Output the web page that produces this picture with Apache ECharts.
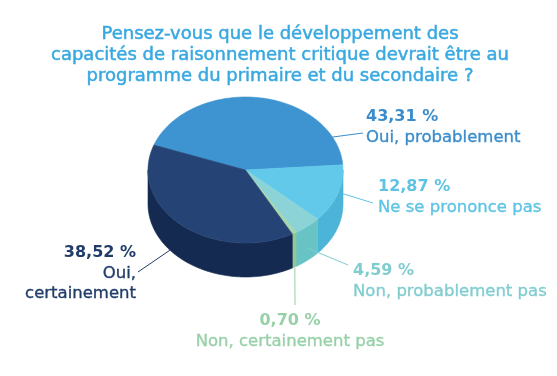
<!DOCTYPE html>
<html>
<head>
<meta charset="utf-8">
<script src="https://cdn.jsdelivr.net/npm/echarts@6/dist/echarts.min.js"></script>
<style>html,body{margin:0;padding:0;background:#fff}#c{width:557px;height:376px}</style>
</head>
<body>
<div id="c"></div>
<script>
// ---- data ----
const titleLines = ['Pensez-vous que le développement des', 'capacités de raisonnement critique devrait être au', 'programme du primaire et du secondaire ?'];
const categories = ['Oui, probablement', 'Ne se prononce pas', 'Non, probablement pas', 'Non, certainement pas', 'Oui, certainement'];
const values = [43.31, 12.87, 4.59, 0.70, 38.52];
const labelNames = [['Oui, probablement'], ['Ne se prononce pas'], ['Non, probablement pas'], ['Non, certainement pas'], ['Oui,', 'certainement']];

// ---- styles ----
const topColors = ['#3d94d0', '#63c9ea', '#8cd3d8', '#a8d6aa', '#254475'];
const wallColors = ['#2f7fb8', '#4bb4d8', '#68c4c4', '#92c696', '#152a50'];
const labelColors = ['#3a8ccb', '#5ec3e4', '#80cdd0', '#98d0a8', '#203c68'];
const geo = { cx: 245.5, cy: 170, rx: 97.5, ry: 73, depth: 34, startDeg: 200 };
// leader anchor (fraction of slice angle, depth on wall), leader end, text anchor
const labelLayout = [
  { frac: 0.854, h: 0, ex: 363, ey: 133, tx: 366, ty: 117, align: 'left' },
  { frac: 0.2, h: 17, ex: 373, ey: 203, tx: 378, ty: 187, align: 'left' },
  { frac: 0.53, h: 21, ex: 348, ey: 265, tx: 353, ty: 271, align: 'left' },
  { frac: 0.32, h: 35, ex: 295, ey: 305, tx: 290, ty: 321, align: 'center' },
  { frac: 0.573, h: 34, ex: 138, ey: 272, tx: 136, ty: 253, align: 'right' }
];
const FONT = '"DejaVu Sans", sans-serif';

const total = values.reduce((a, b) => a + b, 0);
let acc = 0;
const seriesData = values.map((v, i) => { const d = { name: categories[i], value: [v, acc] }; acc += v; return d; });

function ept(t, h) { return [geo.cx + geo.rx * Math.cos(t), geo.cy + geo.ry * Math.sin(t) + (h || 0)]; }
function fmt(v) { return v.toFixed(2).replace('.', ',') + ' %'; }

function renderItem(params, api) {
  const i = params.dataIndex;
  const v = api.value(0), before = api.value(1);
  const s0 = geo.startDeg * Math.PI / 180;
  const a1 = s0 + before / total * 2 * Math.PI;
  const a2 = a1 + v / total * 2 * Math.PI;
  const children = [];
  // walls (front half only)
  for (let k = -1; k <= 2; k++) {
    const lo = Math.max(a1, 2 * Math.PI * k), hi = Math.min(a2, 2 * Math.PI * k + Math.PI);
    if (hi > lo) {
      const pts = [];
      const N = Math.max(4, Math.ceil((hi - lo) * 60));
      for (let n = 0; n <= N; n++) pts.push(ept(lo + (hi - lo) * n / N, 0));
      for (let n = N; n >= 0; n--) pts.push(ept(lo + (hi - lo) * n / N, geo.depth));
      children.push({ type: 'polygon', shape: { points: pts }, style: { fill: wallColors[i], stroke: wallColors[i], lineWidth: 0.6 }, z2: 1 });
    }
  }
  // top face
  const tp = [[geo.cx, geo.cy]];
  const N = Math.max(4, Math.ceil((a2 - a1) * 60));
  for (let n = 0; n <= N; n++) tp.push(ept(a1 + (a2 - a1) * n / N, 0));
  children.push({ type: 'polygon', shape: { points: tp }, style: { fill: topColors[i], stroke: topColors[i], lineWidth: 0.6 }, z2: 2 });
  // leader
  const L = labelLayout[i];
  const ta = a1 + (a2 - a1) * L.frac;
  const p0 = ept(ta, L.h);
  children.push({ type: 'polyline', shape: { points: [p0, [L.ex, L.ey]] }, style: { stroke: labelColors[i], lineWidth: 1, fill: null }, z2: 5 });
  // texts
  children.push({ type: 'text', x: L.tx, y: L.ty, z2: 6, style: { text: fmt(v), fill: labelColors[i], font: 'bold 16px ' + FONT, align: L.align, textAlign: L.align, verticalAlign: 'middle', textVerticalAlign: 'middle' } });
  labelNames[i].forEach((t, j) => {
    children.push({ type: 'text', x: L.tx, y: L.ty + 21 + j * 20, z2: 6, style: { text: t, fill: labelColors[i], font: '16.5px ' + FONT, align: L.align, textAlign: L.align, verticalAlign: 'middle', textVerticalAlign: 'middle', stroke: labelColors[i], lineWidth: 0.35 } });
  });
  return { type: 'group', children };
}

const chart = echarts.init(document.getElementById('c'), null, { renderer: 'canvas' });
chart.setOption({
  animation: false,
  backgroundColor: '#ffffff',
  title: {
    text: titleLines.join('\n'),
    left: 275, top: 19, textAlign: 'center',
    textStyle: { fontFamily: FONT, fontSize: 18, fontWeight: 'normal', color: '#38a8e0', lineHeight: 21, textBorderColor: '#38a8e0', textBorderWidth: 0.5 }
  },
  series: [{
    type: 'custom',
    coordinateSystem: 'none',
    renderItem: renderItem,
    data: seriesData
  }]
});
</script>
</body>
</html>
